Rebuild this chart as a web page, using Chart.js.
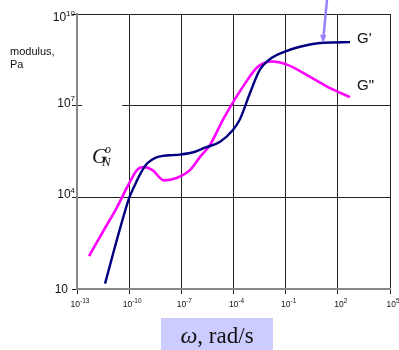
<!DOCTYPE html>
<html>
<head>
<meta charset="utf-8">
<script src="https://cdn.jsdelivr.net/npm/chart.js@4"></script>
<style>
  body { margin: 0; background: #fff; }
  canvas { display: block; }
</style>
</head>
<body>
<canvas id="myChart" width="399" height="350"></canvas>
<script>
// storage modulus G'
var omegaStorage = [4.1e-12, 1.07e-11, 3.2e-11, 9.8e-11, 1.9e-10, 4.6e-10, 1.1e-9, 3.4e-9, 1.0e-8, 3.5e-8, 8.3e-8, 6.2e-7, 2.3e-6, 1.7e-5, 9.3e-5, 2.3e-4, 8.9e-4, 3.3e-3, 1.6e-2, 9.1e-2, 0.66, 14, 500];
var gStorage = [15, 115, 1100, 9.3e3, 2.2e4, 6.2e4, 1.3e5, 2.0e5, 2.3e5, 2.4e5, 2.5e5, 3.1e5, 4.2e5, 6.6e5, 1.6e6, 3.5e6, 2.6e7, 1.5e8, 3.7e8, 5.9e8, 8.5e8, 1.15e9, 1.2e9];

// loss modulus G"
var omegaLoss = [4.9e-13, 3.5e-12, 2.1e-11, 7.8e-11, 2.9e-10, 7.1e-10, 2.1e-9, 1.0e-8, 5.4e-8, 3.2e-7, 1.2e-6, 4.5e-6, 2.5e-5, 3.5e-4, 2.6e-3, 1.6e-2, 0.12, 1.7, 24, 500];
var gLoss = [120, 850, 5.0e3, 2.2e4, 7.9e4, 9.8e4, 7.9e4, 3.6e4, 4.3e4, 7.9e4, 2.1e5, 5.2e5, 3.5e6, 4.2e7, 1.9e8, 2.8e8, 2.2e8, 1.0e8, 4.2e7, 1.9e7];

var xTicks = [1e-13, 1e-10, 1e-7, 1e-4, 1e-1, 1e2, 1e5];
var xExponents = ['-13', '-10', '-7', '-4', '-1', '2', '5'];
var yTicks = [10, 1e4, 1e7, 1e10];
var yExponents = ['', '4', '7', '10'];

// plateau marker
var arrowAt = [14, 1.15e9];

function points(xs, ys) {
    var out = [];
    for (let i = 0; i < xs.length; i++) {
        out.push({x: xs[i], y: ys[i]});
    }
    return out;
}

// power-of-ten label: base "10" plus a raised exponent
function powerLabel(ctx, x, y, exp, baseSize, supSize, align) {
    ctx.font = baseSize + 'px "Liberation Sans", Arial, sans-serif';
    var wb = ctx.measureText('10').width;
    ctx.font = supSize + 'px "Liberation Sans", Arial, sans-serif';
    var ws = exp ? ctx.measureText(exp).width : 0;
    var left = align === 'right' ? x - wb - ws : x - (wb + ws) / 2;
    ctx.textAlign = 'left';
    ctx.textBaseline = 'alphabetic';
    ctx.font = baseSize + 'px "Liberation Sans", Arial, sans-serif';
    ctx.fillText('10', left, y);
    if (exp) {
        ctx.font = supSize + 'px "Liberation Sans", Arial, sans-serif';
        ctx.fillText(exp, left + wb, y - baseSize * 0.45);
    }
}

var labelsPlugin = {
    id: 'labels',
    beforeDatasetsDraw: function (chart) {
        var ctx = chart.ctx, xs = chart.scales.x, ys = chart.scales.y, area = chart.chartArea;
        // gap in the 10^7 line on the left
        var y7 = ys.getPixelForValue(1e7);
        ctx.save();
        ctx.fillStyle = '#fff';
        ctx.fillRect(area.left + 5, y7 - 1.5, xs.getPixelForValue(4e-11) - area.left - 5, 3);
        ctx.restore();
    },
    afterDraw: function (chart) {
        var ctx = chart.ctx, xs = chart.scales.x, ys = chart.scales.y, area = chart.chartArea;
        ctx.save();
        ctx.fillStyle = '#111';

        // y tick labels
        for (let i = 0; i < yTicks.length; i++) {
            var py = ys.getPixelForValue(yTicks[i]);
            if (yExponents[i] === '') {
                ctx.font = '12px "Liberation Sans", Arial, sans-serif';
                ctx.textAlign = 'right';
                ctx.textBaseline = 'middle';
                ctx.fillText('10', area.left - 9, py + 1);
            } else {
                powerLabel(ctx, area.left - 2, Math.max(py + 1, 21), yExponents[i], 12, 8, 'right');
            }
        }

        // x tick labels
        for (let i = 0; i < xTicks.length; i++) {
            var px = xs.getPixelForValue(xTicks[i]);
            powerLabel(ctx, px + 3, 307, xExponents[i], 8.5, 6.5, 'center');
        }

        // axis name
        ctx.font = '11px "Liberation Sans", Arial, sans-serif';
        ctx.textAlign = 'left';
        ctx.textBaseline = 'alphabetic';
        ctx.fillText('modulus,', 10, 55);
        ctx.fillText('Pa', 10, 68);

        // curve names
        ctx.font = '15px "Liberation Sans", Arial, sans-serif';
        ctx.fillText("G'", 357, 43);
        ctx.fillText('G"', 357, 90);

        // plateau modulus symbol
        ctx.font = 'italic 21px "Liberation Serif", "Times New Roman", serif';
        ctx.fillText('G', 92, 163);
        ctx.font = 'italic 13px "Liberation Serif", "Times New Roman", serif';
        ctx.fillText('N', 102, 166);
        ctx.font = 'italic 12px "Liberation Serif", "Times New Roman", serif';
        ctx.fillText('o', 105, 153);

        // frequency title on a tinted box
        ctx.fillStyle = '#ccccff';
        ctx.fillRect(161, 318, 112, 32);
        ctx.fillStyle = '#111';
        ctx.font = 'italic 24px "Liberation Serif", "Times New Roman", serif';
        var wOmega = ctx.measureText('\u03c9').width;
        ctx.font = '23px "Liberation Serif", "Times New Roman", serif';
        var wRest = ctx.measureText(', rad/s').width;
        var start = 217 - (wOmega + wRest) / 2;
        ctx.font = 'italic 24px "Liberation Serif", "Times New Roman", serif';
        ctx.fillText('\u03c9', start, 343);
        ctx.font = '23px "Liberation Serif", "Times New Roman", serif';
        ctx.fillText(', rad/s', start + wOmega, 343);

        // arrow down onto the G' plateau
        var tx = xs.getPixelForValue(arrowAt[0]);
        var ty = ys.getPixelForValue(arrowAt[1]);
        ctx.strokeStyle = '#9b80ff';
        ctx.fillStyle = '#9b80ff';
        ctx.lineWidth = 2.5;
        ctx.beginPath();
        ctx.moveTo(tx + 4, 0);
        ctx.lineTo(tx + 0.5, ty - 6);
        ctx.stroke();
        ctx.beginPath();
        ctx.moveTo(tx, ty);
        ctx.lineTo(tx - 3, ty - 8);
        ctx.lineTo(tx + 3.5, ty - 7.5);
        ctx.closePath();
        ctx.fill();
        ctx.restore();
    }
};

var ctx = document.getElementById('myChart').getContext('2d');
var myChart = new Chart(ctx, {
    type: 'line',
    data: {
        datasets: [{
            label: "G'",
            data: points(omegaStorage, gStorage),
            borderColor: '#000080',
            borderWidth: 2.4,
            pointRadius: 0,
            cubicInterpolationMode: 'monotone',
            fill: false
        }, {
            label: 'G"',
            data: points(omegaLoss, gLoss),
            borderColor: '#ff00ff',
            borderWidth: 2.6,
            pointRadius: 0,
            cubicInterpolationMode: 'monotone',
            fill: false
        }]
    },
    options: {
        responsive: false,
        animation: false,
        devicePixelRatio: 1,
        layout: {padding: {left: 0, top: 14, right: 9, bottom: 0}},
        plugins: {
            legend: {display: false},
            tooltip: {enabled: false}
        },
        scales: {
            x: {
                type: 'logarithmic',
                min: 1e-13,
                max: 1e5,
                afterBuildTicks: function (scale) {
                    scale.ticks = xTicks.map(v => ({value: v}));
                },
                afterFit: function (scale) { scale.height = 61; },
                ticks: {display: false},
                grid: {color: '#222', lineWidth: 1, tickLength: 5, drawTicks: true},
                border: {color: '#888', width: 2}
            },
            y: {
                type: 'logarithmic',
                min: 10,
                max: 1e10,
                afterBuildTicks: function (scale) {
                    scale.ticks = yTicks.map(v => ({value: v}));
                },
                afterFit: function (scale) { scale.width = 77; },
                ticks: {display: false},
                grid: {color: '#222', lineWidth: 1, tickLength: 5, drawTicks: true},
                border: {color: '#888', width: 2}
            }
        }
    },
    plugins: [labelsPlugin]
});
</script>
</body>
</html>
